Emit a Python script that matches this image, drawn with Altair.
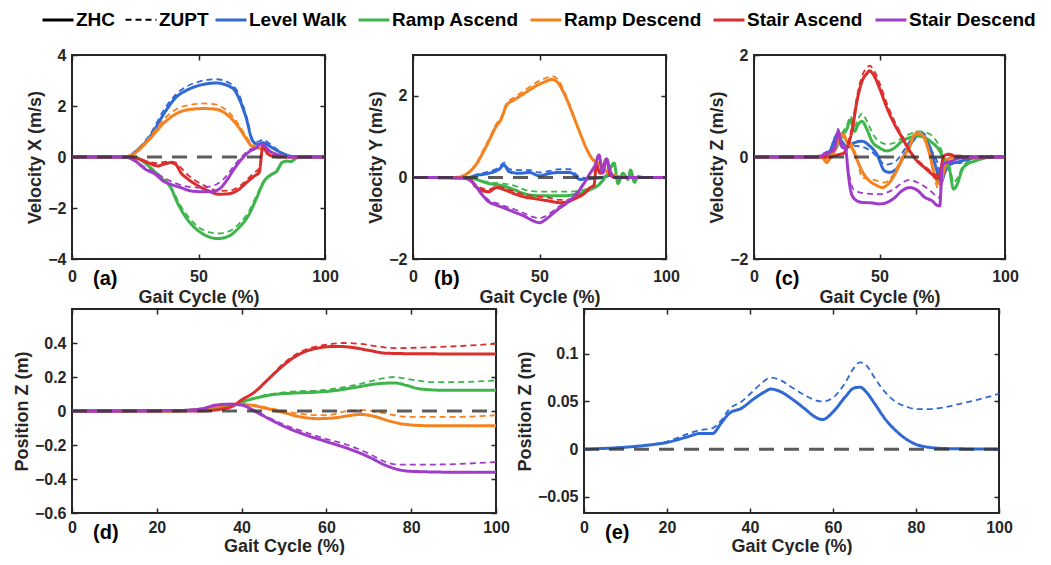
import altair as alt
import pandas as pd

ACTIVITIES = ["Level Walk", "Ramp Ascend", "Ramp Descend", "Stair Ascend", "Stair Descend"]
COLORS = ["#3169d4", "#3db54a", "#f5821f", "#dc2d2d", "#a13cc9"]
METHODS = ["ZHC", "ZUPT"]

# ---------------- Panel (a): Velocity X (m/s) ----------------
VX_LW_ZHC = [(0,0),(22,0),(25,0.2),(30.6,0.76),(37,1.8),(41,2.33),(45,2.6),(50,2.8),(57,2.9),(63.5,2.7),(66,2.3),(68.8,1.55),(71.4,0.63),(73.4,0.5),(75.4,0.56),(79,0.37),(82.6,0.17),(86,0.04),(90,0),(100,0)]
VX_LW_ZUPT = [(0,0),(22,0),(25,0.22),(30.6,0.85),(37,1.95),(41,2.45),(45,2.75),(50,2.95),(57,3.05),(63,2.85),(66,2.45),(68.8,1.65),(71.4,0.7),(73.4,0.6),(75.4,0.68),(79,0.45),(82.6,0.2),(86,0.05),(90,0),(100,0)]
VX_RA_ZHC = [(0,0),(25,0),(27,-0.1),(31,-0.42),(35,-0.8),(39,-1.2),(42,-1.86),(46,-2.5),(50,-2.9),(55,-3.16),(57.5,-3.2),(62,-3.1),(66,-2.77),(70,-2.25),(73,-1.6),(76,-0.94),(79,-0.68),(81,-0.55),(83,-0.22),(85,-0.16),(86.5,-0.18),(89,-0.03),(92,0),(100,0)]
VX_RA_ZUPT = [(0,0),(25,0),(27,-0.1),(31,-0.4),(35,-0.75),(39,-1.15),(42,-1.75),(46,-2.35),(50,-2.75),(55,-2.97),(57.5,-3.0),(62,-2.92),(66,-2.62),(70,-2.12),(73,-1.5),(76,-0.9),(79,-0.65),(81,-0.5),(83,-0.2),(85,-0.15),(86.5,-0.15),(89,-0.02),(92,0),(100,0)]
VX_RD_ZHC = [(0,0),(20,0),(24,0.1),(30,0.63),(37,1.4),(42,1.74),(47,1.87),(52,1.9),(57,1.87),(62,1.6),(66,1.15),(69,0.7),(71,0.43),(73,0.37),(76,0.3),(79,0.17),(83,0.04),(88,0),(100,0)]
VX_RD_ZUPT = [(0,0),(20,0),(24,0.12),(30,0.7),(37,1.55),(42,1.92),(47,2.05),(52,2.1),(57,2.05),(62,1.75),(66,1.25),(69,0.78),(71,0.5),(73,0.42),(76,0.35),(79,0.2),(83,0.05),(88,0),(100,0)]
VX_SA_ZHC = [(0,0),(23,0),(27,-0.1),(30,-0.22),(34,-0.35),(36,-0.29),(39,-0.22),(41,-0.29),(43,-0.61),(46,-0.88),(50,-1.14),(54,-1.33),(58,-1.46),(62,-1.44),(66,-1.27),(69,-1.0),(72,-0.75),(74,-0.6),(75.5,0.45),(77,0.17),(79,0.04),(82,0),(100,0)]
VX_SA_ZUPT = [(0,0),(23,0),(27,-0.08),(30,-0.18),(34,-0.25),(36,-0.2),(39,-0.18),(41,-0.22),(43,-0.42),(46,-0.72),(50,-1.0),(54,-1.2),(58,-1.33),(62,-1.32),(66,-1.16),(69,-0.9),(72,-0.62),(74,-0.45),(75.5,0.4),(77,0.15),(79,0.04),(82,0),(100,0)]
VX_SD_ZHC = [(0,0),(21,0),(25,-0.16),(29,-0.48),(33,-0.68),(36,-0.94),(39,-1.07),(43,-1.2),(47,-1.33),(51,-1.36),(55,-1.36),(58,-1.27),(61,-0.94),(64,-0.48),(67,-0.09),(70.5,0.24),(73,0.37),(74.5,0.5),(76,0.43),(78,0.24),(80,0.13),(83,0.04),(86,0),(100,0)]
VX_SD_ZUPT = [(0,0),(21,0),(25,-0.14),(29,-0.42),(33,-0.6),(36,-0.8),(39,-0.95),(43,-1.1),(47,-1.18),(51,-1.2),(55,-1.15),(58,-1.02),(61,-0.75),(64,-0.35),(67,0.0),(70.5,0.3),(73,0.42),(74.5,0.52),(76,0.45),(78,0.26),(80,0.14),(83,0.04),(86,0),(100,0)]

# ---------------- Panel (b): Velocity Y (m/s) ----------------
VY_LW_ZHC = [(0,0),(22,0),(25,0.05),(30,0.1),(34,0.2),(36,0.3),(38,0.14),(42,0.1),(46,0.12),(50,0.04),(54,0.1),(58,0.12),(62,0.12),(64,0.05),(66,-0.05),(70,-0.03),(75,0.0),(78,0.05),(81,0),(100,0)]
VY_LW_ZUPT = [(0,0),(22,0),(25,0.07),(30,0.14),(34,0.25),(36,0.36),(38,0.2),(42,0.18),(46,0.18),(50,0.12),(54,0.16),(58,0.2),(62,0.2),(64,0.1),(66,0.0),(70,-0.02),(75,0.0),(78,0.05),(81,0),(100,0)]
VY_RA_ZHC = [(0,0),(22,0),(25,-0.05),(30,-0.15),(35,-0.2),(40,-0.3),(44,-0.4),(50,-0.45),(55,-0.45),(60,-0.45),(65,-0.4),(70,-0.3),(74,-0.15),(77,0.1),(79.5,0.35),(81,-0.15),(83,0.1),(85,-0.05),(86,0.18),(87.5,-0.12),(89,0.02),(91,0),(100,0)]
VY_RA_ZUPT = [(0,0),(22,0),(25,-0.04),(30,-0.12),(35,-0.15),(40,-0.2),(44,-0.3),(50,-0.35),(55,-0.35),(60,-0.35),(66,-0.33),(70,-0.25),(74,-0.12),(77,0.08),(79.5,0.3),(81,-0.1),(83,0.08),(85,-0.03),(86,0.12),(87.5,-0.08),(89,0.01),(91,0),(100,0)]
VY_RD_ZHC = [(0,0),(17,0),(22,0.12),(25,0.32),(28,0.65),(30,0.89),(32.5,1.21),(35,1.45),(37,1.77),(40,1.9),(44,2.06),(48,2.22),(52,2.34),(55,2.4),(57,2.34),(60,2.02),(63,1.57),(66,1.09),(69,0.65),(71,0.44),(73,0.36),(75,0.24),(77,0.12),(80,0.04),(84,0),(100,0)]
VY_RD_ZUPT = [(0,0),(17,0),(22,0.13),(25,0.34),(28,0.7),(30,0.94),(32.5,1.27),(35,1.5),(37,1.82),(40,1.96),(44,2.13),(48,2.3),(52,2.42),(55,2.48),(57,2.42),(60,2.08),(63,1.6),(66,1.1),(69,0.66),(71,0.45),(73,0.37),(75,0.25),(77,0.12),(80,0.04),(84,0),(100,0)]
VY_SA_ZHC = [(0,0),(22,-0.02),(25,-0.24),(30,-0.35),(33,-0.25),(36,-0.3),(40,-0.4),(44,-0.48),(48,-0.52),(54,-0.58),(58,-0.62),(61,-0.6),(64,-0.52),(68,-0.38),(70,-0.25),(71.5,-0.2),(72.5,0.3),(74,0.1),(76.5,0.45),(78,0.05),(80,0),(100,0)]
VY_SA_ZUPT = [(0,0),(22,-0.02),(25,-0.2),(30,-0.3),(33,-0.22),(36,-0.26),(40,-0.35),(44,-0.42),(48,-0.46),(54,-0.5),(58,-0.55),(61,-0.55),(64,-0.48),(68,-0.35),(70,-0.23),(71.5,-0.18),(72.5,0.28),(74,0.1),(76.5,0.4),(78,0.05),(80,0),(100,0)]
VY_SD_ZHC = [(0,0),(20,-0.02),(24,-0.15),(27,-0.4),(30,-0.6),(33,-0.68),(36,-0.75),(40,-0.85),(44,-0.95),(47,-1.05),(50,-1.11),(52,-1.05),(55,-0.9),(58,-0.75),(61,-0.62),(64,-0.45),(67,-0.2),(70,0.1),(72,0.3),(73.5,0.55),(75,0.1),(76.5,0.45),(78,0.15),(80,0),(100,0)]
VY_SD_ZUPT = [(0,0),(20,-0.02),(24,-0.14),(27,-0.38),(30,-0.56),(33,-0.63),(36,-0.7),(40,-0.78),(44,-0.88),(47,-0.96),(50,-1.0),(52,-0.96),(55,-0.84),(58,-0.7),(61,-0.58),(64,-0.42),(67,-0.18),(70,0.1),(72,0.3),(73.5,0.5),(75,0.1),(76.5,0.42),(78,0.15),(80,0),(100,0)]

# ---------------- Panel (c): Velocity Z (m/s) ----------------
VZ_LW_ZHC = [(0,0),(25,0),(30,0.1),(33,0.4),(35,0.3),(37,0.2),(40,0.28),(43,0.31),(46,0.22),(49,0.05),(52,-0.27),(54,-0.3),(57,-0.22),(60,0.05),(63,0.3),(66,0.44),(67.5,0.42),(70,0.2),(72.5,-0.2),(74.5,-0.5),(76,-0.3),(78,-0.15),(81,-0.1),(85,-0.05),(90,0),(100,0)]
VZ_LW_ZUPT = [(0,0),(25,0),(30,0.12),(33,0.45),(35,0.32),(37,0.18),(40,0.22),(43,0.2),(47,0.1),(50,-0.05),(52,-0.15),(56,-0.1),(60,0.15),(63,0.38),(66,0.5),(68,0.45),(70,0.2),(73,-0.1),(75,-0.45),(76.5,-0.25),(78,-0.1),(82,-0.12),(86,-0.05),(90,0),(100,0)]
VZ_RA_ZHC = [(0,0),(25,0),(30,0.05),(33,0.2),(35,0.4),(37,0.55),(38.5,0.73),(40,0.5),(41.5,0.64),(43,0.7),(45,0.54),(47,0.31),(50,0.18),(53,0.12),(56,0.18),(59,0.31),(62,0.38),(65,0.41),(68,0.38),(71,0.28),(74,0.12),(76,-0.08),(78,-0.27),(79.5,-0.63),(81,-0.53),(83,-0.24),(85,-0.14),(88,-0.08),(92,-0.02),(95,0),(100,0)]
VZ_RA_ZUPT = [(0,0),(25,0),(30,0.06),(33,0.24),(35,0.46),(37,0.62),(38.5,0.8),(40,0.6),(41.5,0.75),(43,0.85),(45,0.7),(48,0.4),(50,0.3),(53,0.25),(56,0.28),(59,0.37),(62,0.45),(66,0.5),(70,0.45),(74,0.2),(76,-0.02),(78,-0.2),(79.5,-0.5),(81,-0.42),(83,-0.2),(85,-0.1),(88,-0.06),(92,-0.02),(95,0),(100,0)]
VZ_RD_ZHC = [(0,0),(25,0),(27,0),(29,-0.11),(30,-0.05),(32,0.1),(35,0.45),(37,0.3),(39,0.18),(41,-0.05),(43,-0.27),(46,-0.47),(49,-0.56),(51,-0.6),(53,-0.55),(56,-0.35),(59,-0.05),(62,0.2),(64,0.44),(66,0.45),(68,0.35),(70,0.05),(72,-0.35),(74,-0.53),(75.5,-0.3),(77,-0.05),(80,0),(100,0)]
VZ_RD_ZUPT = [(0,0),(25,0.02),(27,0.05),(29,-0.05),(30,0.0),(32,0.15),(35,0.5),(37,0.35),(39,0.25),(41,-0.02),(43,-0.4),(48,-0.45),(52,-0.5),(56,-0.3),(59,0.0),(62,0.25),(65,0.5),(68,0.4),(70,0.05),(72,-0.45),(74,-0.65),(75.5,-0.35),(77,-0.05),(80,0),(100,0)]
VZ_SA_ZHC = [(0,0),(30,0),(34,0.05),(36,0.08),(37,0.18),(39,0.5),(41,1.09),(43,1.48),(45,1.64),(46,1.69),(48,1.58),(50,1.35),(53,0.96),(56,0.64),(59,0.38),(62,0.12),(65,-0.08),(68,-0.21),(71,-0.34),(73,-0.42),(74,-0.34),(75.5,0.0),(77,0.05),(80,0.02),(85,0),(100,0)]
VZ_SA_ZUPT = [(0,0),(30,0),(34,0.06),(36,0.1),(37,0.22),(39,0.58),(41,1.18),(43,1.58),(45,1.75),(46,1.79),(48,1.68),(50,1.45),(53,1.04),(56,0.7),(59,0.42),(62,0.15),(65,-0.05),(68,-0.18),(71,-0.3),(73,-0.36),(74,-0.3),(75.5,0.03),(77,0.07),(80,0.04),(85,0.02),(100,0.02)]
VZ_SD_ZHC = [(0,0),(25,0),(28,0.05),(32,0.15),(33.5,0.5),(35,0.2),(36.5,0.15),(37.5,-0.3),(38.5,-0.66),(40,-0.82),(43,-0.89),(47,-0.9),(50,-0.92),(53,-0.89),(56,-0.8),(59,-0.66),(62,-0.6),(65,-0.65),(68,-0.79),(71,-0.86),(73,-0.95),(74,-0.96),(75,-0.2),(76,-0.12),(78,-0.1),(80,-0.05),(85,0),(100,0)]
VZ_SD_ZUPT = [(0,0),(25,0),(28,0.08),(32,0.2),(33.5,0.55),(35,0.25),(36.5,0.2),(37.5,-0.2),(38.5,-0.5),(40,-0.65),(45,-0.72),(50,-0.73),(55,-0.65),(60,-0.48),(62,-0.45),(66,-0.52),(70,-0.65),(73,-0.78),(74,-0.8),(75,-0.15),(76,-0.1),(78,-0.08),(80,-0.04),(85,0),(100,0)]

# ---------------- Panel (d): Position Z (m) ----------------
PZ_RA_ZHC = [(0,0),(25,0.002),(30,0.01),(35,0.025),(39,0.04),(41,0.06),(44,0.08),(47,0.095),(52,0.105),(57,0.11),(62,0.12),(67,0.14),(72,0.16),(76,0.165),(79,0.15),(82,0.13),(88,0.122),(100,0.122)]
PZ_RA_ZUPT = [(0,0),(25,0.002),(30,0.01),(35,0.025),(39,0.04),(41,0.06),(45,0.09),(50,0.11),(60,0.125),(68,0.16),(72,0.185),(76,0.2),(80,0.185),(85,0.17),(90,0.17),(100,0.18)]
PZ_RD_ZHC = [(0,0),(25,0.002),(30,0.01),(35,0.03),(38,0.04),(42,0.035),(45,0.02),(50,-0.01),(54,-0.035),(58,-0.045),(62,-0.04),(66,-0.025),(68,-0.02),(71,-0.03),(75,-0.06),(79,-0.08),(85,-0.087),(100,-0.087)]
PZ_RD_ZUPT = [(0,0),(25,0.002),(30,0.01),(35,0.03),(38,0.04),(42,0.038),(45,0.025),(50,0.0),(55,-0.02),(60,-0.025),(65,0.0),(69,0.005),(72,-0.005),(76,-0.025),(80,-0.035),(90,-0.035),(100,-0.025)]
PZ_SA_ZHC = [(0,0),(30,0),(35,0.01),(38,0.03),(40,0.065),(43,0.11),(46,0.18),(49,0.25),(52,0.31),(55,0.35),(58,0.37),(62,0.38),(65,0.377),(70,0.357),(74,0.34),(80,0.337),(100,0.335)]
PZ_SA_ZUPT = [(0,0),(30,0),(35,0.01),(38,0.03),(40,0.065),(43,0.11),(46,0.18),(49,0.26),(52,0.32),(55,0.36),(60,0.39),(64,0.4),(68,0.395),(72,0.38),(76,0.37),(85,0.375),(100,0.395)]
PZ_SD_ZHC = [(0,0),(25,0.003),(30,0.01),(34,0.035),(37,0.04),(40,0.035),(43,0.0),(46,-0.04),(50,-0.09),(55,-0.14),(60,-0.18),(65,-0.22),(70,-0.27),(74,-0.32),(77,-0.345),(80,-0.355),(90,-0.36),(100,-0.36)]
PZ_SD_ZUPT = [(0,0),(25,0.003),(30,0.01),(34,0.035),(37,0.042),(40,0.035),(43,0.005),(46,-0.035),(50,-0.08),(55,-0.125),(60,-0.165),(65,-0.2),(70,-0.25),(74,-0.3),(77,-0.315),(85,-0.315),(100,-0.3)]

# ---------------- Panel (e): Position Z (m), Level Walk ----------------
PE_LW_ZHC = [(0,0),(10,0.002),(15,0.004),(20,0.007),(25,0.013),(28,0.0165),(31,0.0165),(33,0.027),(35,0.0375),(38,0.043),(41,0.053),(43.5,0.06),(45,0.063),(47,0.061),(50,0.053),(53,0.043),(56,0.033),(57.5,0.031),(60,0.039),(63,0.055),(65,0.064),(66.5,0.065),(68,0.06),(70,0.048),(72.5,0.032),(75,0.02),(78,0.0095),(80,0.005),(83,0.002),(88,0.0005),(100,0)]
PE_LW_ZUPT = [(0,0),(10,0.002),(15,0.004),(20,0.008),(25,0.016),(28,0.02),(31,0.022),(33,0.03),(35,0.042),(38,0.05),(41,0.062),(43,0.07),(45,0.075),(47,0.073),(50,0.065),(53,0.057),(56,0.051),(57.5,0.05),(60,0.054),(63,0.07),(65,0.085),(66.5,0.091),(68,0.088),(70,0.075),(72.5,0.06),(75,0.05),(78,0.044),(80,0.042),(83,0.042),(87,0.044),(90,0.047),(95,0.052),(100,0.058)]

ZERO_LINE = [(0, 0), (100, 0)]

X_TITLE = "Gait Cycle (%)"
FONT = "Liberation Sans"
INK = "#262626"
NUM = ".6~g"


def frame(series):
    rows = []
    for (act, meth), pts in series.items():
        for x, y in pts:
            rows.append({"x": x, "y": y, "activity": act, "method": meth})
    return pd.DataFrame(rows)


def legend(x, y, ncol, extra):
    return alt.Legend(title=None, orient="none", legendX=x, legendY=y, direction="horizontal",
                      columns=ncol, symbolType="stroke", symbolSize=961, labelOffset=1,
                      columnPadding=5, labelFont=FONT, labelFontSize=19, labelFontWeight="bold",
                      labelColor="black", **extra)


def panel(series, ydom, yticks, xticks, ytitle, letter, w, h, lpad, tpad):
    xs = alt.Scale(domain=[0, 100], nice=False, zero=False)
    ys = alt.Scale(domain=ydom, nice=False, zero=False)
    lines = alt.Chart(frame(series)).mark_line(interpolate="monotone", clip=True).encode(
        x=alt.X("x:Q", scale=xs, axis=alt.Axis(values=xticks, title=X_TITLE, orient="bottom",
                                              offset=-5, tickSize=5, labelPadding=lpad, titlePadding=tpad,
                                              format=NUM, labelFlush=False)),
        y=alt.Y("y:Q", scale=ys, axis=alt.Axis(values=yticks, title=ytitle, orient="left",
                                              offset=-5, tickSize=5, labelPadding=6, titlePadding=3,
                                              format=NUM)),
        color=alt.Color("activity:N", scale=alt.Scale(domain=ACTIVITIES, range=COLORS),
                        legend=legend(142, -52, 5, {"symbolStrokeWidth": 3})),
        strokeDash=alt.StrokeDash("method:N", scale=alt.Scale(domain=METHODS, range=[[1, 0], [6, 4]]),
                                  legend=legend(-31, -52, 2, {"symbolStrokeWidth": 2.5,
                                                              "symbolStrokeColor": "black"})),
        strokeWidth=alt.StrokeWidth("method:N", scale=alt.Scale(domain=METHODS, range=[3, 1.8]), legend=None),
    )
    zdf = pd.DataFrame({"x": [p[0] for p in ZERO_LINE], "y": [p[1] for p in ZERO_LINE]})
    zero = alt.Chart(zdf).mark_line(strokeDash=[15, 10], color="#333333", strokeWidth=3, opacity=0.8).encode(
        x=alt.X("x:Q", scale=xs, axis=alt.Axis(values=xticks, title=None, orient="top", offset=-5,
                                              tickSize=5, labels=False)),
        y=alt.Y("y:Q", scale=ys, axis=alt.Axis(values=yticks, title=None, orient="right", offset=-5,
                                              tickSize=5, labels=False)),
    )
    lab = alt.Chart(pd.DataFrame({"t": [letter]})).mark_text(
        align="left", baseline="alphabetic", font=FONT, fontSize=20, fontWeight="bold", color="black"
    ).encode(text="t:N", x=alt.value(21), y=alt.value(h + 26))
    return alt.layer(lines, zero, lab).resolve_axis(x="independent", y="independent").properties(width=w, height=h)


pa = panel({("Level Walk", "ZHC"): VX_LW_ZHC, ("Level Walk", "ZUPT"): VX_LW_ZUPT,
            ("Ramp Ascend", "ZHC"): VX_RA_ZHC, ("Ramp Ascend", "ZUPT"): VX_RA_ZUPT,
            ("Ramp Descend", "ZHC"): VX_RD_ZHC, ("Ramp Descend", "ZUPT"): VX_RD_ZUPT,
            ("Stair Ascend", "ZHC"): VX_SA_ZHC, ("Stair Ascend", "ZUPT"): VX_SA_ZUPT,
            ("Stair Descend", "ZHC"): VX_SD_ZHC, ("Stair Descend", "ZUPT"): VX_SD_ZUPT},
           [-4, 4], [-4, -2, 0, 2, 4], [0, 50, 100], "Velocity X (m/s)", "(a)", 253, 204, 9, 4)
pb = panel({("Level Walk", "ZHC"): VY_LW_ZHC, ("Level Walk", "ZUPT"): VY_LW_ZUPT,
            ("Ramp Ascend", "ZHC"): VY_RA_ZHC, ("Ramp Ascend", "ZUPT"): VY_RA_ZUPT,
            ("Ramp Descend", "ZHC"): VY_RD_ZHC, ("Ramp Descend", "ZUPT"): VY_RD_ZUPT,
            ("Stair Ascend", "ZHC"): VY_SA_ZHC, ("Stair Ascend", "ZUPT"): VY_SA_ZUPT,
            ("Stair Descend", "ZHC"): VY_SD_ZHC, ("Stair Descend", "ZUPT"): VY_SD_ZUPT},
           [-2, 3], [-2, 0, 2], [0, 50, 100], "Velocity Y (m/s)", "(b)", 253, 204, 9, 4)
pc = panel({("Level Walk", "ZHC"): VZ_LW_ZHC, ("Level Walk", "ZUPT"): VZ_LW_ZUPT,
            ("Ramp Ascend", "ZHC"): VZ_RA_ZHC, ("Ramp Ascend", "ZUPT"): VZ_RA_ZUPT,
            ("Ramp Descend", "ZHC"): VZ_RD_ZHC, ("Ramp Descend", "ZUPT"): VZ_RD_ZUPT,
            ("Stair Ascend", "ZHC"): VZ_SA_ZHC, ("Stair Ascend", "ZUPT"): VZ_SA_ZUPT,
            ("Stair Descend", "ZHC"): VZ_SD_ZHC, ("Stair Descend", "ZUPT"): VZ_SD_ZUPT},
           [-2, 2], [-2, 0, 2], [0, 50, 100], "Velocity Z (m/s)", "(c)", 251, 204, 9, 4)
pd_ = panel({("Ramp Ascend", "ZHC"): PZ_RA_ZHC, ("Ramp Ascend", "ZUPT"): PZ_RA_ZUPT,
             ("Ramp Descend", "ZHC"): PZ_RD_ZHC, ("Ramp Descend", "ZUPT"): PZ_RD_ZUPT,
             ("Stair Ascend", "ZHC"): PZ_SA_ZHC, ("Stair Ascend", "ZUPT"): PZ_SA_ZUPT,
             ("Stair Descend", "ZHC"): PZ_SD_ZHC, ("Stair Descend", "ZUPT"): PZ_SD_ZUPT},
            [-0.6, 0.6], [-0.6, -0.4, -0.2, 0, 0.2, 0.4], [0, 20, 40, 60, 80, 100],
            "Position Z (m)", "(d)", 424, 204, 6, 2)
pe = panel({("Level Walk", "ZHC"): PE_LW_ZHC, ("Level Walk", "ZUPT"): PE_LW_ZUPT},
           [-0.067, 0.147], [-0.05, 0, 0.05, 0.1], [0, 20, 40, 60, 80, 100],
           "Position Z (m)", "(e)", 415, 204, 6, 2)

top = alt.hconcat(pa, pb, pc, spacing=88, bounds="flush")
bottom = alt.hconcat(pd_, pe, spacing=88, bounds="flush")

chart = alt.vconcat(top, bottom, spacing=0).configure(
    padding={"left": 4, "top": -5, "right": 3, "bottom": -1}, background="white"
).configure_view(stroke=INK, strokeWidth=2).configure_axis(
    labelFont=FONT, labelFontSize=16, labelFontWeight="bold", labelColor=INK,
    titleFont=FONT, titleFontSize=18, titleFontWeight="bold", titleColor=INK,
    tickColor=INK, tickWidth=1.5, grid=False, domain=False
)

chart.save("out.html", embed_options={"renderer": "svg", "actions": False})
